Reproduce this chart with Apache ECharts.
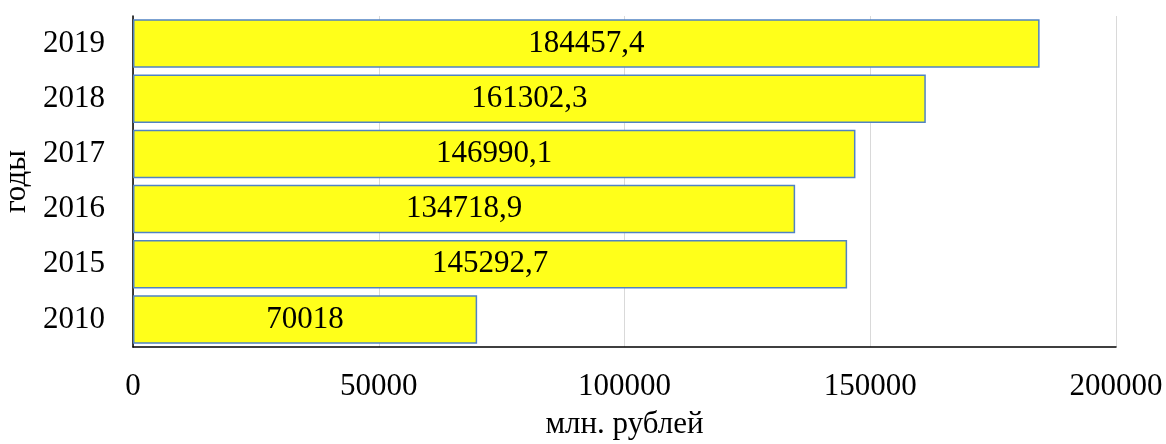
<!DOCTYPE html>
<html>
<head>
<meta charset="utf-8">
<script src="https://cdn.jsdelivr.net/npm/echarts@6/dist/echarts.min.js"></script>
<style>
  html, body { margin: 0; padding: 0; background: #fff; }
  #chart { width: 1166px; height: 444px; }
</style>
</head>
<body>
<div id="chart"></div>
<script>
  // годы и значения (млн. рублей)
  var years = ['2010', '2015', '2016', '2017', '2018', '2019'];
  var values = [70018, 145292.7, 134718.9, 146990.1, 161302.3, 184457.4];
  var xTicks = [0, 50000, 100000, 150000, 200000];

  var font = '"Liberation Serif", "Times New Roman", serif';
  var chart = echarts.init(document.getElementById('chart'));

  var option = {
    backgroundColor: '#fff',
    textStyle: { fontFamily: font },
    grid: { left: 133, right: 50, top: 16, bottom: 97, outerBoundsMode: 'none' },
    xAxis: {
      type: 'value',
      min: xTicks[0],
      max: xTicks[xTicks.length - 1],
      interval: 50000,
      name: 'млн. рублей',
      nameLocation: 'middle',
      nameGap: 62,
      nameTextStyle: { fontFamily: font, fontSize: 31, color: '#000' },
      axisLine: { show: true, lineStyle: { color: '#000', width: 1.5 } },
      axisTick: { show: false },
      axisLabel: {
        fontFamily: font, fontSize: 31, color: '#000', margin: 24,
        formatter: function (v) { return String(v); }
      },
      splitLine: { show: true, lineStyle: { color: '#d9d9d9', width: 1 } }
    },
    yAxis: {
      type: 'category',
      data: years,
      name: 'годы',
      nameLocation: 'middle',
      nameGap: 96,
      nameRotate: 90,
      nameTextStyle: { fontFamily: font, fontSize: 31, color: '#000' },
      axisLine: { show: true, lineStyle: { color: '#000', width: 1.5 } },
      axisTick: { show: false },
      axisLabel: { fontFamily: font, fontSize: 31, color: '#000', margin: 28 }
    },
    series: [{
      type: 'bar',
      data: values,
      barCategoryGap: '12%',
      itemStyle: { color: '#ffff1a', borderColor: '#5083c4', borderWidth: 1.5 },
      label: {
        show: true,
        position: 'inside',
        fontFamily: font,
        fontSize: 31,
        color: '#000',
        formatter: function (p) { return String(p.value).replace('.', ','); }
      }
    }]
  };
  chart.setOption(option);
</script>
</body>
</html>
